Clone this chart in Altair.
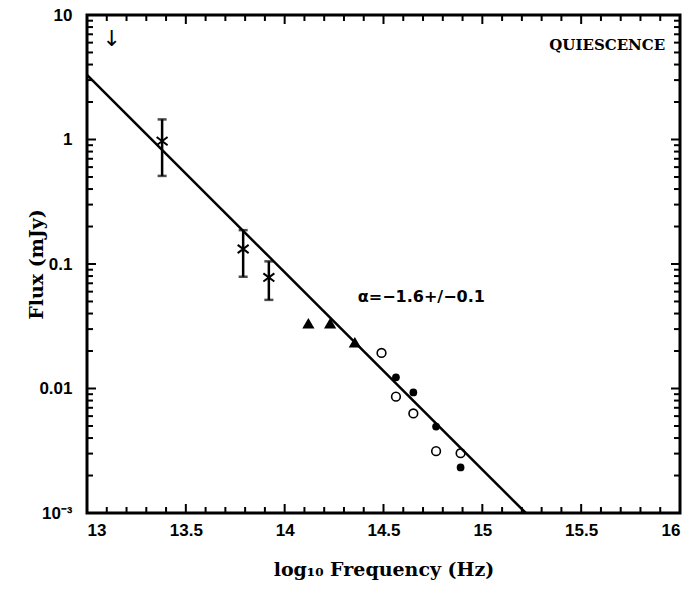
import altair as alt
import pandas as pd

W, H = 593, 498

# Mid-IR photometry with error bars (log10 frequency, flux in mJy)
ir_x = [13.38, 13.79, 13.92]
ir_flux = [0.97, 0.132, 0.078]
ir_lo = [0.51, 0.079, 0.0515]
ir_hi = [1.45, 0.187, 0.105]

# Near-IR points (triangles)
nir_x = [14.12, 14.23, 14.355]
nir_flux = [0.0334, 0.0334, 0.0235]

# Optical points, open circles
open_x = [14.49, 14.563, 14.651, 14.766, 14.89]
open_flux = [0.0193, 0.0086, 0.0063, 0.00314, 0.00302]

# Optical points, filled circles
filled_x = [14.563, 14.651, 14.766, 14.89]
filled_flux = [0.0123, 0.0093, 0.00495, 0.00232]

# Upper limit
limit_x = [13.125]
limit_flux = [6.4]

# Power-law fit, alpha = -1.6
fit_x = [13.0, 15.22]
fit_flux = [3.3, 0.001]

# Axis ticks
x_major = [13.0, 13.5, 14.0, 14.5, 15.0, 15.5, 16.0]
x_minor = [13.1, 13.2, 13.3, 13.4, 13.6, 13.7, 13.8, 13.9,
           14.1, 14.2, 14.3, 14.4, 14.6, 14.7, 14.8, 14.9,
           15.1, 15.2, 15.3, 15.4, 15.6, 15.7, 15.8, 15.9]
y_major = [0.001, 0.01, 0.1, 1.0, 10.0]
y_minor = [m * d for d in [0.001, 0.01, 0.1, 1.0] for m in range(2, 10)]

# Annotations (data coordinates)
notes = pd.DataFrame({
    "x": [15.925, 14.37],
    "flux": [5.75, 0.0545],
    "text": ["QUIESCENCE", "\u03b1=\u22121.6+/\u22120.1"],
})

X_MIN, X_MAX = 13.0, 16.0
xs = alt.Scale(domain=[X_MIN, X_MAX], nice=False, zero=False)
ys = alt.Scale(type="log", domain=[0.001, 10], nice=False)

X_TITLE = "log\u2081\u2080 Frequency (Hz)"
Y_TITLE = "Flux (mJy)"

X = lambda: alt.X("x:Q", scale=xs, title=X_TITLE)
Y = lambda: alt.Y("flux:Q", scale=ys, title=Y_TITLE)

fit = alt.Chart(pd.DataFrame({"x": fit_x, "flux": fit_flux})).mark_line(
    color="black", strokeWidth=2.5
).encode(
    x=alt.X("x:Q", scale=xs, title=X_TITLE, axis=alt.Axis(
        values=x_major, format="~g",
        labelPadding=9, titlePadding=22,
    )),
    y=alt.Y("flux:Q", scale=ys, title=Y_TITLE, axis=alt.Axis(
        values=y_major,
        labelExpr="datum.value < 0.005 ? '10\u207b\u00b3' : toString(datum.value)",
        labelPadding=15,
        titleX=-51, titleY=H / 2, titleAlign="center", titleBaseline="middle",
    )),
)

ir = pd.DataFrame({"x": ir_x, "flux": ir_flux, "lo": ir_lo, "hi": ir_hi})
ir_bars = alt.Chart(ir).mark_rule(color="black", strokeWidth=2.5).encode(
    x=X(), y=alt.Y("lo:Q", scale=ys, title=Y_TITLE), y2="hi:Q"
)
cap_lo = alt.Chart(ir).mark_tick(color="black", orient="horizontal", size=9, thickness=2.5).encode(
    x=X(), y=alt.Y("lo:Q", scale=ys, title=Y_TITLE)
)
cap_hi = alt.Chart(ir).mark_tick(color="black", orient="horizontal", size=9, thickness=2.5).encode(
    x=X(), y=alt.Y("hi:Q", scale=ys, title=Y_TITLE)
)
ir_pts = alt.Chart(ir).mark_point(
    shape="M-1,-0.75L1,0.75M-1,0.75L1,-0.75", size=120, color="black",
    strokeWidth=2, filled=False, opacity=1
).encode(x=X(), y=Y())

nir = alt.Chart(pd.DataFrame({"x": nir_x, "flux": nir_flux})).mark_point(
    shape="triangle-up", size=150, color="black", filled=True, opacity=1
).encode(x=X(), y=Y())

opn = alt.Chart(pd.DataFrame({"x": open_x, "flux": open_flux})).mark_point(
    shape="circle", size=75, color="black", filled=False, strokeWidth=1.6, opacity=1
).encode(x=X(), y=Y())

fil = alt.Chart(pd.DataFrame({"x": filled_x, "flux": filled_flux})).mark_point(
    shape="circle", size=60, color="black", filled=True, opacity=1
).encode(x=X(), y=Y())

limit = alt.Chart(pd.DataFrame({"x": limit_x, "flux": limit_flux})).mark_text(
    text="\u2193", font="DejaVu Sans", fontSize=22, color="black", baseline="middle"
).encode(x=X(), y=Y())

label_quiescence = alt.Chart(notes.iloc[[0]]).mark_text(
    font="DejaVu Serif", fontWeight="bold", fontSize=15, align="right",
    baseline="middle", color="black"
).encode(x=X(), y=Y(), text="text:N")

label_alpha = alt.Chart(notes.iloc[[1]]).mark_text(
    font="DejaVu Sans", fontWeight="bold", fontSize=16, align="left",
    baseline="middle", color="black"
).encode(x=X(), y=Y(), text="text:N")


def xticks(vals, length):
    # inward ticks on the bottom and top frame edges
    base = alt.Chart(pd.DataFrame({"x": vals})).mark_rule(color="black", strokeWidth=2)
    return [
        base.encode(x=X(), y=alt.value(H), y2=alt.value(H - length)),
        base.encode(x=X(), y=alt.value(0), y2=alt.value(length)),
    ]


def yticks(vals, length):
    # inward ticks on the left and right frame edges (length in pixels -> x units)
    dx = length * (X_MAX - X_MIN) / W
    left = pd.DataFrame({"flux": vals, "x": X_MIN, "x_end": X_MIN + dx})
    right = pd.DataFrame({"flux": vals, "x": X_MAX, "x_end": X_MAX - dx})
    return [
        alt.Chart(d).mark_rule(color="black", strokeWidth=2).encode(
            y=Y(), x=X(), x2="x_end:Q"
        )
        for d in (left, right)
    ]


ticks = xticks(x_major, 9) + xticks(x_minor, 6) + yticks(y_major, 9) + yticks(y_minor, 6)

chart = alt.layer(
    fit, *ticks, ir_bars, cap_lo, cap_hi, ir_pts, nir, opn, fil, limit,
    label_quiescence, label_alpha,
).properties(
    width=W, height=H,
    autosize=alt.AutoSizeParams(type="none"),
    padding={"left": 87, "top": 15, "right": 11, "bottom": 77},
    background="white",
).configure_view(
    stroke="black", strokeWidth=3,
).configure_axis(
    domain=False, ticks=False, grid=False,
    labelFont="Liberation Sans", labelFontWeight="bold", labelFontSize=17,
    labelColor="black",
    titleFont="DejaVu Serif", titleFontWeight="bold", titleFontSize=19,
    titleColor="black",
)

chart.save("out.html", embed_options={"renderer": "svg", "actions": False})
